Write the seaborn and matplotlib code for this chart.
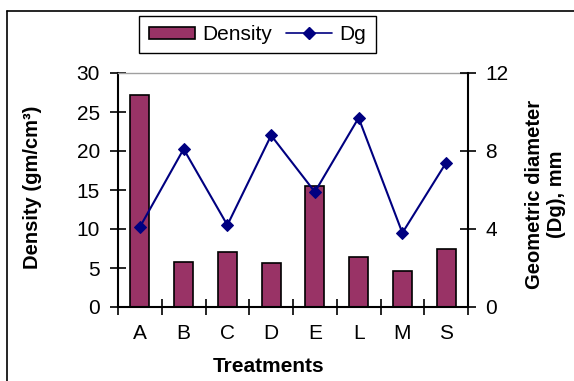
import numpy as np
import pandas as pd
import matplotlib
matplotlib.use("Agg")
import matplotlib.pyplot as plt
import seaborn as sns
from matplotlib.lines import Line2D
from matplotlib.patches import Patch

# ---- data ----
categories = ["A", "B", "C", "D", "E", "L", "M", "S"]
density = [27.2, 5.8, 7.1, 5.6, 15.5, 6.4, 4.6, 7.5]
dg = [4.1, 8.1, 4.2, 8.8, 5.9, 9.7, 3.8, 7.4]
left_ticks = [0, 5, 10, 15, 20, 25, 30]
right_ticks = [0, 4, 8, 12]

BAR_COLOR = "#993366"
LINE_COLOR = "#000080"

sns.set_style("white")
plt.rcParams["font.family"] = ["Liberation Sans", "DejaVu Sans"]
plt.rcParams["text.color"] = "black"
plt.rcParams["axes.labelcolor"] = "black"
plt.rcParams["xtick.color"] = "black"
plt.rcParams["ytick.color"] = "black"

W, H = 574, 381
fig = plt.figure(figsize=(W / 100, H / 100), dpi=100)
fig.patch.set_facecolor("white")

# axes rectangle in pixels: left 118, right 468, top 73, bottom 307
ax = fig.add_axes([118 / W, (H - 307) / H, 350 / W, 234 / H])
ax.set_facecolor("white")

df = pd.DataFrame({"Treatment": categories, "Density": density, "Dg": dg})
df["pos"] = np.arange(len(categories))

sns.barplot(data=df, x="Treatment", y="Density", color=BAR_COLOR, saturation=1,
            width=0.43, edgecolor="black", linewidth=1.2, ax=ax, zorder=2)
ax.set_xlim(-0.5, len(categories) - 0.5)
ax.set_ylim(0, 30)

ax2 = ax.twinx()
sns.lineplot(data=df, x="pos", y="Dg", ax=ax2, color=LINE_COLOR, marker="D",
             markersize=6, markeredgecolor=LINE_COLOR, markerfacecolor=LINE_COLOR,
             linewidth=1.5, legend=False)
ax2.set_ylim(0, 12)
ax2.set_xlim(-0.5, len(categories) - 0.5)

FS = 15

# x ticks: marks between categories, labels at centres
ax.set_xticks(np.arange(-0.5, len(categories), 1.0))
ax.set_xticklabels([])
ax.set_xticks(np.arange(len(categories)), minor=True)
ax.set_xticklabels(categories, minor=True, fontsize=FS)
ax.tick_params(axis="x", which="major", direction="inout", length=11, width=1.2, bottom=True)
ax.tick_params(axis="x", which="minor", length=0, pad=12.5, bottom=True)

ax.set_yticks(left_ticks)
ax.set_yticklabels([str(t) for t in left_ticks], fontsize=FS)
ax.tick_params(axis="y", which="major", direction="inout", length=11, width=1.2, pad=7.5, left=True)

ax2.set_yticks(right_ticks)
ax2.set_yticklabels([str(t) for t in right_ticks], fontsize=FS)
ax2.tick_params(axis="y", which="major", direction="inout", length=11, width=1.2, pad=7, right=True)

for s in ["left", "bottom"]:
    ax.spines[s].set_color("black")
    ax.spines[s].set_linewidth(1.5)
ax.spines["right"].set_visible(False)
ax.spines["top"].set_color("#a0a0a0")
ax.spines["top"].set_linewidth(1.0)
ax2.spines["right"].set_color("black")
ax2.spines["right"].set_linewidth(1.5)
for s in ["left", "bottom", "top"]:
    ax2.spines[s].set_visible(False)

# axis labels
ax.set_xlabel("Treatments", fontsize=FS, fontweight="bold")
ax.xaxis.set_label_coords((268.7 - 118) / 350, (307 - 366) / 234)
ax.xaxis.label.set_verticalalignment("center")

ax.set_ylabel("Density (gm/cm³)", fontsize=14.5, fontweight="bold")
ax.yaxis.set_label_coords((33 - 118) / 350, (307 - 187) / 234)
ax.yaxis.label.set_verticalalignment("center")

ax2.set_ylabel("Geometric diameter\n(Dg), mm", fontsize=14.5, fontweight="bold",
               rotation=90, multialignment="center")
ax2.yaxis.set_label_coords((545 - 118) / 350, (307 - 194) / 234)
ax2.yaxis.label.set_verticalalignment("center")

# legend
handles = [Patch(facecolor=BAR_COLOR, edgecolor="black", linewidth=1.2, label="Density"),
           Line2D([0], [0], color=LINE_COLOR, marker="D", markersize=6, linewidth=1.2,
                  label="Dg")]
leg = fig.legend(handles=handles, loc="center", ncol=2,
                 bbox_to_anchor=(257.5 / W, 1 - 34.5 / H), fontsize=FS,
                 frameon=True, fancybox=False, framealpha=1, edgecolor="black",
                 handlelength=2.2, handleheight=0.5, handletextpad=0.35,
                 columnspacing=0.7, borderpad=0.45, borderaxespad=0)
leg.get_frame().set_linewidth(1.0)

# outer chart border (left and top edges visible)
fig.add_artist(Line2D([7 / W, 7 / W], [0, 1 - 11 / H], transform=fig.transFigure,
                      color="black", linewidth=1.2))
fig.add_artist(Line2D([7 / W, 1], [1 - 11 / H, 1 - 11 / H], transform=fig.transFigure,
                      color="black", linewidth=1.2))

fig.savefig("out.png", dpi=100)
